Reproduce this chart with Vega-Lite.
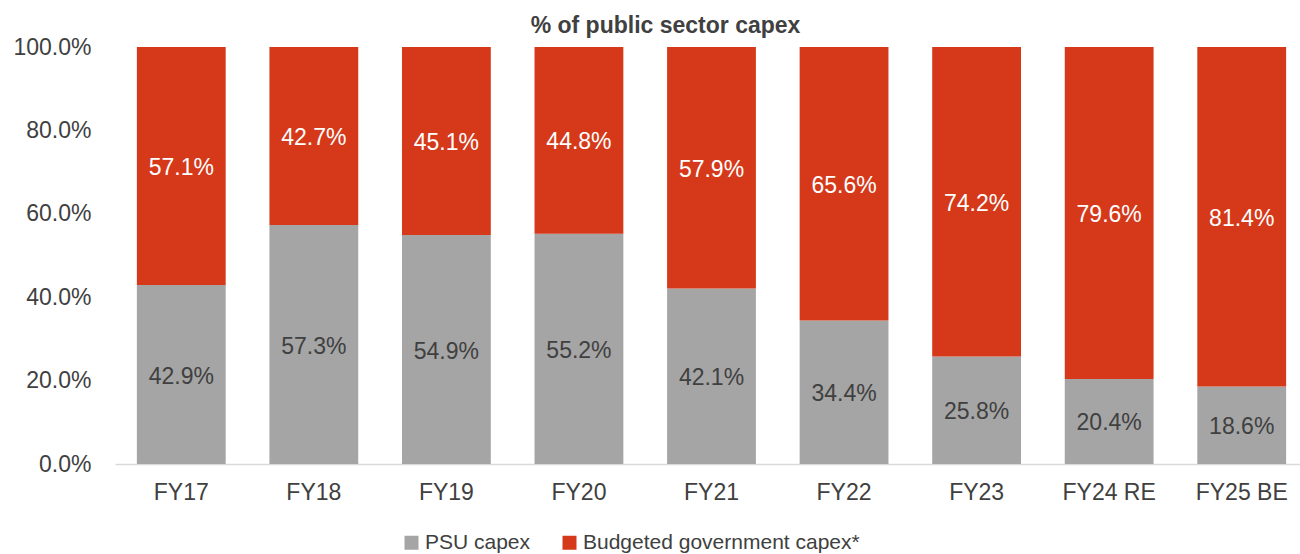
{
  "$schema": "https://vega.github.io/schema/vega-lite/v6.json",
  "autosize": {"type": "none"},
  "padding": {"left": 115, "top": 47, "right": 0, "bottom": 90},
  "width": 1193,
  "height": 417,
  "background": "#ffffff",
  "config": {
    "font": "Liberation Sans",
    "view": {"stroke": null}
  },
  "title": {
    "text": "% of public sector capex",
    "font": "Liberation Sans",
    "fontSize": 23,
    "fontWeight": "bold",
    "color": "#404040",
    "anchor": "middle",
    "dx": -46,
    "offset": -2
  },
  "data": {
    "values": [
      {"fy": "FY17", "series": "PSU capex", "value": 0.429},
      {"fy": "FY17", "series": "Budgeted government capex*", "value": 0.571},
      {"fy": "FY18", "series": "PSU capex", "value": 0.573},
      {"fy": "FY18", "series": "Budgeted government capex*", "value": 0.427},
      {"fy": "FY19", "series": "PSU capex", "value": 0.549},
      {"fy": "FY19", "series": "Budgeted government capex*", "value": 0.451},
      {"fy": "FY20", "series": "PSU capex", "value": 0.552},
      {"fy": "FY20", "series": "Budgeted government capex*", "value": 0.448},
      {"fy": "FY21", "series": "PSU capex", "value": 0.421},
      {"fy": "FY21", "series": "Budgeted government capex*", "value": 0.579},
      {"fy": "FY22", "series": "PSU capex", "value": 0.344},
      {"fy": "FY22", "series": "Budgeted government capex*", "value": 0.656},
      {"fy": "FY23", "series": "PSU capex", "value": 0.258},
      {"fy": "FY23", "series": "Budgeted government capex*", "value": 0.742},
      {"fy": "FY24 RE", "series": "PSU capex", "value": 0.204},
      {"fy": "FY24 RE", "series": "Budgeted government capex*", "value": 0.796},
      {"fy": "FY25 BE", "series": "PSU capex", "value": 0.186},
      {"fy": "FY25 BE", "series": "Budgeted government capex*", "value": 0.814}
    ]
  },
  "transform": [
    {"stack": "value", "groupby": ["fy"], "sort": [{"field": "series", "order": "descending"}], "as": ["y0", "y1"]}
  ],
  "layer": [
    {
      "mark": {"type": "bar"},
      "encoding": {
        "x": {
          "field": "fy", "type": "nominal", "sort": null,
          "scale": {"paddingInner": 0.33, "paddingOuter": 0.165},
          "axis": {
            "title": null, "labelAngle": 0, "ticks": false,
            "domainColor": "#d9d9d9", "domainWidth": 1.5,
            "labelFont": "Liberation Sans", "labelFontSize": 23, "labelColor": "#404040",
            "labelPadding": 17
          }
        },
        "y": {
          "field": "y0", "type": "quantitative",
          "scale": {"domain": [0, 1], "nice": false},
          "axis": {
            "title": null, "format": ".1%", "values": [0, 0.2, 0.4, 0.6, 0.8, 1],
            "grid": false, "ticks": false, "domain": false,
            "labelFont": "Liberation Sans", "labelFontSize": 23, "labelColor": "#404040",
            "labelPadding": 24
          }
        },
        "y2": {"field": "y1"},
        "color": {
          "field": "series", "type": "nominal",
          "scale": {"domain": ["PSU capex", "Budgeted government capex*"], "range": ["#A5A5A5", "#D5391A"]},
          "legend": {
            "title": null, "orient": "none", "direction": "horizontal",
            "legendX": 286, "legendY": 485,
            "symbolType": "square", "symbolSize": 196, "symbolStrokeWidth": 0,
            "labelFont": "Liberation Sans", "labelFontSize": 21, "labelColor": "#404040",
            "labelOffset": 3, "columnPadding": 28, "labelLimit": 500
          }
        }
      }
    },
    {
      "transform": [
        {"fold": ["y0", "y1"], "as": ["k", "pos"]}
      ],
      "mark": {"type": "text", "baseline": "middle", "align": "center", "fontSize": 23, "font": "Liberation Sans", "dy": 2},
      "encoding": {
        "x": {"field": "fy", "type": "nominal", "sort": null},
        "y": {"aggregate": "mean", "field": "pos", "type": "quantitative"},
        "detail": {"field": "series", "type": "nominal"},
        "text": {"field": "value", "type": "quantitative", "format": ".1%"},
        "color": {
          "condition": {"test": "datum.series === 'PSU capex'", "value": "#404040"},
          "value": "#ffffff"
        }
      }
    }
  ]
}
